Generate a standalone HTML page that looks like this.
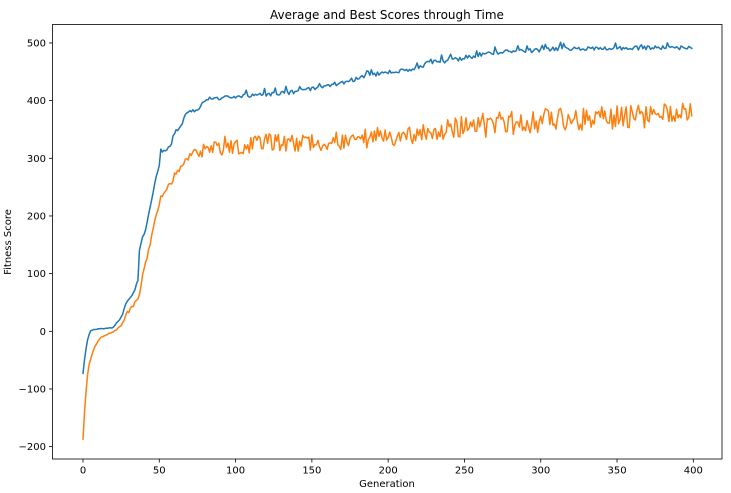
<!DOCTYPE html>
<html>
<head>
<meta charset="utf-8">
<style>
html,body{margin:0;padding:0;background:#fff;}
svg{display:block;}
text{font-family:"DejaVu Sans","Liberation Sans",sans-serif;fill:#000;}
</style>
</head>
<body>
<svg id="chart" width="731" height="493" viewBox="0 0 731 493" xmlns="http://www.w3.org/2000/svg">
<rect x="0" y="0" width="731" height="493" fill="#fff"/>
<text x="387" y="19" font-size="12" text-anchor="middle">Average and Best Scores through Time</text>
<g id="ticks" stroke="#000" stroke-width="0.8"></g>
<g id="labels" font-size="10"></g>
<polyline id="blue" fill="none" stroke="#1f77b4" stroke-width="1.5" stroke-linejoin="round" stroke-linecap="square" points=""/>
<polyline id="orange" fill="none" stroke="#ff7f0e" stroke-width="1.5" stroke-linejoin="round" stroke-linecap="square" points=""/>
<rect x="52.5" y="24.5" width="669.5" height="434.5" fill="none" stroke="#000" stroke-width="0.8"/>
<text x="387" y="487" font-size="10" text-anchor="middle">Generation</text>
<text x="0" y="0" font-size="10" text-anchor="middle" transform="translate(11,242) rotate(-90)">Fitness Score</text>
</svg>
<script>
(function(){
  var NS="http://www.w3.org/2000/svg";
  function X(g){return 83+g*1.5258;}
  function Y(v){return 331.3-v*0.5767;}
  var ticks=document.getElementById("ticks"), labels=document.getElementById("labels");
  function line(x1,y1,x2,y2){var l=document.createElementNS(NS,"line");l.setAttribute("x1",x1);l.setAttribute("y1",y1);l.setAttribute("x2",x2);l.setAttribute("y2",y2);ticks.appendChild(l);}
  function txt(x,y,s,anchor){var t=document.createElementNS(NS,"text");t.setAttribute("x",x);t.setAttribute("y",y);t.setAttribute("text-anchor",anchor);t.textContent=s;labels.appendChild(t);}
  for(var g=0;g<=400;g+=50){var x=X(g);line(x,459,x,462.5);txt(x,473.5,String(g),"middle");}
  for(var v=-200;v<=500;v+=100){var y=Y(v);line(49,y,52.5,y);txt(46,y+3.6,(v<0?"\u2212"+(-v):String(v)),"end");}
  var s=12345;
  function rnd(){s|=0;s=s+0x6D2B79F5|0;var t=Math.imul(s^s>>>15,1|s);t=t+Math.imul(t^t>>>7,61|t)^t;return((t^t>>>14)>>>0)/4294967296;}
  function interp(kp,g){
    if(g<=kp[0][0])return kp[0][1];
    for(var i=1;i<kp.length;i++){if(g<=kp[i][0]){var a=kp[i-1],b=kp[i];return a[1]+(b[1]-a[1])*(g-a[0])/(b[0]-a[0]);}}
    return kp[kp.length-1][1];
  }
  var blueK=[[0,-73],[1,-50],[2,-30],[3,-15],[4,-5],[5,0],[6,2],[10,4],[15,5],[20,7],[22,14],[24,20],[26,30],[28,48],[30,56],[32,62],[34,72],[36,90],[37,140],[38,152],[40,170],[42,185],[44,215],[46,240],[48,265],[50,290],[51,312],[53,315],[55,312],[57,320],[59,335],[61,348],[64,355],[67,375],[70,380],[75,385],[78,395],[82,403],[90,404],[100,408],[130,412],[160,425],[190,445],[220,456],[225,465],[250,473],[265,483],[295,487],[310,490],[399,492]];
  var orK=[[0,-187],[1,-140],[2,-105],[3,-75],[4,-58],[6,-40],[8,-25],[10,-17],[12,-10],[15,-6],[19,-2],[22,3],[25,10],[27,20],[29,32],[32,42],[35,52],[37,66],[39,95],[41,118],[43,140],[45,165],[47,190],[49,210],[51,235],[54,245],[57,255],[60,270],[63,282],[66,292],[70,300],[75,309],[80,316],[90,321],[110,326],[170,329],[190,336],[220,341],[250,355],[300,365],[350,371],[399,377]];
  function bAmp(g){if(g<36)return 0.8;if(g<60)return 4;if(g<100)return 3;return 3.5;}
  function oAmp(g){if(g<28)return 0.8;if(g<50)return 3;if(g<70)return 5;if(g<90)return 11;if(g<240)return 17;return 21;}
  var bp=[],op=[];
  for(var g=0;g<400;g++){
    var bv=interp(blueK,g);
    if(g>0){bv+=(rnd()*2-1)*bAmp(g); if(g>100&&rnd()<0.08)bv+=5+rnd()*4;}
    var ov=interp(orK,g);
    if(g>0){ov+=(rnd()*2-1)*oAmp(g);}
    bp.push(X(g).toFixed(2)+","+Y(bv).toFixed(2));
    op.push(X(g).toFixed(2)+","+Y(ov).toFixed(2));
  }
  document.getElementById("blue").setAttribute("points",bp.join(" "));
  document.getElementById("orange").setAttribute("points",op.join(" "));
})();
</script>
</body>
</html>
